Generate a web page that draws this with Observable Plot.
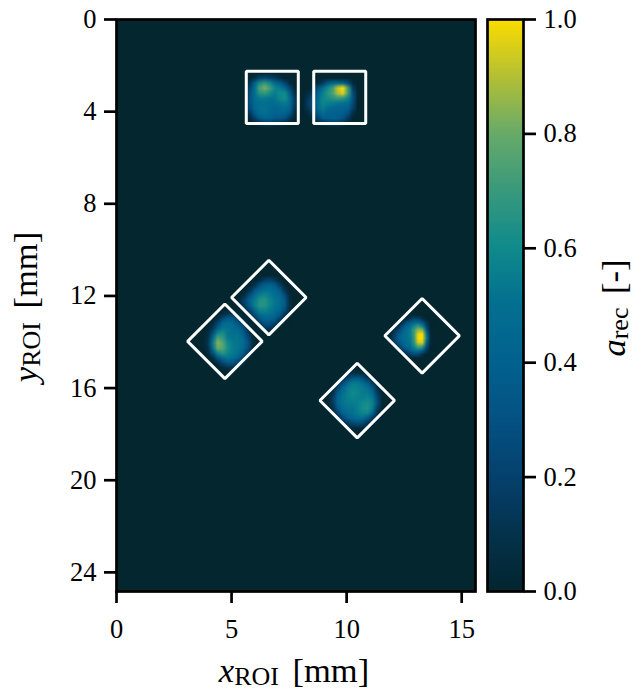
<!DOCTYPE html>
<html>
<head>
<meta charset="utf-8">
<script src="https://cdn.jsdelivr.net/npm/d3@7"></script>
<script src="https://cdn.jsdelivr.net/npm/@observablehq/plot@0.6"></script>
<style>
html,body{margin:0;padding:0;background:#fff}
#chart{display:flex;width:634px;height:691px}
svg{display:block;overflow:visible}
</style>
</head>
<body>
<div id="chart"></div>
<script>
const xTicks = [0, 5, 10, 15];
const yTicks = [0, 4, 8, 12, 16, 20, 24];
const barTicks = [0, 0.2, 0.4, 0.6, 0.8, 1];
const xMax = 15.6;
const yMax = 24.83;
const stopValues = [0, 0.1, 0.2, 0.3, 0.4, 0.5, 0.6, 0.7, 0.8, 0.9, 1];
const stopColors = ["#03262f","#04324c","#05416e","#045283","#02618f","#036f90","#0f8a8c","#38997d","#66aa6a","#b2bf36","#fadc00"];

// a_rec in percent
const gridTopLeft = [
[0,0,0,0,0,0,0,0,0,0,0,0],
[0,0,8,20,24,20,14,6,0,0,0,0],
[0,12,40,62,68,60,48,38,22,6,0,0],
[0,22,50,74,82,72,58,54,44,22,2,0],
[0,28,50,66,68,62,54,60,60,38,8,0],
[0,30,48,54,54,52,52,58,62,48,14,0],
[0,30,46,50,50,48,48,52,54,48,16,0],
[0,26,44,50,50,46,44,46,48,42,12,0],
[0,14,36,48,50,46,42,42,42,32,6,0],
[0,4,20,36,42,40,36,34,30,14,1,0],
[0,0,3,10,16,16,12,10,5,1,0,0],
[0,0,0,0,0,0,0,0,0,0,0,0]];
const gridTopRight = [
[0,0,0,0,0,0,0,0,0,0,0,0],
[0,0,0,0,0,0,0,0,0,0,0,0],
[0,0,0,2,16,34,44,46,42,26,5,0],
[0,0,4,28,48,60,72,92,100,72,18,0],
[0,6,14,40,56,66,74,90,96,72,28,0],
[0,12,24,46,58,62,66,70,68,58,30,0],
[0,16,28,48,58,56,54,52,50,48,26,0],
[0,12,24,46,54,48,44,42,42,40,20,0],
[0,4,14,36,48,42,40,40,38,30,8,0],
[0,0,3,20,36,38,40,38,30,16,1,0],
[0,0,0,3,12,16,18,16,10,3,0,0],
[0,0,0,0,0,0,0,0,0,0,0,0]];
const gridUpperDiamond = [
[0,0,0,0,0,0,0,0,0,0,0,0],
[0,0,0,0,0,6,18,22,14,3,0,0],
[0,0,0,0,10,28,38,42,36,18,3,0],
[0,0,0,10,32,44,50,50,46,36,12,0],
[0,0,8,28,46,56,58,54,50,46,26,3],
[0,5,22,42,54,64,66,58,52,48,34,5],
[0,3,18,38,56,66,66,58,52,48,36,6],
[0,0,6,22,44,58,58,54,50,44,26,3],
[0,0,0,7,26,44,50,48,44,32,10,0],
[0,0,0,0,8,28,40,40,32,14,2,0],
[0,0,0,0,0,10,24,24,14,3,0,0],
[0,0,0,0,0,1,6,6,2,0,0,0]];
const gridLeftDiamond = [
[0,0,0,0,3,9,9,3,0,0,0,0],
[0,0,0,5,22,34,32,16,3,0,0,0],
[0,0,3,22,44,48,44,32,14,2,0,0],
[0,0,12,38,52,52,48,44,30,8,0,0],
[0,5,28,58,62,52,50,50,40,16,2,0],
[0,8,44,74,68,54,52,52,46,26,4,0],
[0,12,54,84,76,60,54,52,48,32,6,0],
[0,8,48,80,76,62,54,52,46,28,4,0],
[0,3,28,58,66,58,54,50,38,14,1,0],
[0,0,7,30,46,52,48,40,22,3,0,0],
[0,0,0,7,22,34,32,18,5,0,0,0],
[0,0,0,0,3,8,6,2,0,0,0,0]];
const gridRightDiamond = [
[0,0,0,0,0,0,0,0,0,0,0,0],
[0,0,0,0,2,12,22,20,8,0,0,0],
[0,0,0,8,26,38,46,48,36,14,0,0],
[0,0,8,26,42,50,62,72,60,24,1,0],
[0,8,22,38,48,54,72,88,86,38,3,0],
[2,16,32,44,50,54,72,98,100,54,5,0],
[4,20,36,46,50,54,70,100,100,58,6,0],
[2,14,30,42,48,52,68,94,96,46,4,0],
[0,5,16,32,42,48,60,76,70,30,2,0],
[0,0,5,14,26,38,48,52,40,14,0,0],
[0,0,0,2,7,16,24,22,10,1,0,0],
[0,0,0,0,0,0,0,0,0,0,0,0]];
const gridLowerDiamond = [
[0,0,0,0,1,5,6,3,0,0,0,0],
[0,0,0,6,20,32,34,26,11,1,0,0],
[0,0,7,26,46,54,54,48,36,14,1,0],
[0,2,22,44,54,58,56,54,50,32,5,0],
[0,8,36,50,56,60,58,54,54,44,14,0],
[0,16,42,52,56,58,56,56,58,52,22,0],
[0,16,42,52,54,54,56,60,62,56,24,0],
[0,8,34,48,52,52,56,62,64,54,16,0],
[0,2,20,40,48,50,54,58,58,40,6,0],
[0,0,5,22,38,44,48,48,34,14,1,0],
[0,0,0,3,14,24,28,24,11,1,0,0],
[0,0,0,0,1,3,4,3,1,0,0,0]];

const patches = [
  {grid: gridTopLeft, x1: 5.46, x2: 8.07, y1: 2.21, y2: 4.82},
  {grid: gridTopRight, x1: 7.98, x2: 10.59, y1: 2.21, y2: 4.82},
  {grid: gridUpperDiamond, x1: 5.03, x2: 7.63, y1: 10.98, y2: 13.59},
  {grid: gridLeftDiamond, x1: 3.64, x2: 6.24, y1: 12.63, y2: 15.23},
  {grid: gridRightDiamond, x1: 11.80, x2: 13.89, y1: 12.72, y2: 14.80},
  {grid: gridLowerDiamond, x1: 9.07, x2: 11.67, y1: 15.23, y2: 17.84}
];

// region-of-interest outlines: centre x, centre y, half size (mm)
const squareX = [6.77, 9.7];
const squareY = [3.38, 3.38];
const squareHalf = [1.13, 1.13];
const diamondX = [6.62, 4.71, 13.28, 10.46];
const diamondY = [12.07, 13.97, 13.73, 16.54];
const diamondHalf = [1.62, 1.62, 1.62, 1.62];

const outline = [];
squareX.forEach((cx, k) => {
  const cy = squareY[k], h = squareHalf[k];
  [[0,-1],[1,-1],[1,1],[-1,1],[-1,-1],[0,-1]].forEach(([a,b]) =>
    outline.push({id: "s" + k, x: cx + a*h, y: cy + b*h}));
});
diamondX.forEach((cx, k) => {
  const cy = diamondY[k], h = diamondHalf[k];
  [[.5,-.5],[1,0],[0,1],[-1,0],[0,-1],[.5,-.5]].forEach(([a,b]) =>
    outline.push({id: "d" + k, x: cx + a*h, y: cy + b*h}));
});

const colorScale = {type: "linear", domain: stopValues, range: stopColors, clamp: true};
const FONT = "'Liberation Serif','Times New Roman',serif";
const SPINE = 2.7;

const main = Plot.plot({
  width: 481, height: 691,
  marginLeft: 116, marginRight: 6, marginTop: 19, marginBottom: 100,
  style: {fontFamily: FONT, background: "transparent"},
  x: {domain: [0, xMax]},
  y: {domain: [yMax, 0]},
  color: colorScale,
  marks: [
    Plot.frame({fill: stopColors[0], stroke: null}),
    ...patches.map(p => Plot.raster(p.grid.flat().map(v => v === 0 ? NaN : v / 100), {
      width: 12, height: 12, x1: p.x1, x2: p.x2, y1: p.y1, y2: p.y2, fill: d => d
    })),
    Plot.line(outline, {x: "x", y: "y", z: "id", stroke: "#fff", strokeWidth: 3, strokeLinejoin: "miter", curve: "linear"}),
    Plot.frame({stroke: "#000", strokeWidth: SPINE}),
    Plot.axisX({anchor: "bottom", ticks: xTicks, tickFormat: d => d, label: null, tickSize: 12, tickPadding: 16, strokeWidth: SPINE, fontSize: 26.5, fill: "#000", stroke: "#000"}),
    Plot.axisY({anchor: "left", ticks: yTicks, tickFormat: d => d, label: null, tickSize: 12, tickPadding: 8, strokeWidth: SPINE, fontSize: 26.5, fill: "#000", stroke: "#000"})
  ]
});

const ramp = d3.ticks(0, 1, 200).reverse();
const bar = Plot.plot({
  width: 153, height: 691,
  marginLeft: 6, marginRight: 111, marginTop: 19, marginBottom: 100,
  style: {fontFamily: FONT, background: "transparent"},
  x: {domain: [0, 1], axis: null},
  y: {domain: [0, 1]},
  color: colorScale,
  marks: [
    Plot.raster(ramp, {width: 1, height: ramp.length, x1: 0, x2: 1, y1: 1, y2: 0, fill: d => d}),
    Plot.frame({stroke: "#000", strokeWidth: SPINE}),
    Plot.axisY({anchor: "right", ticks: barTicks, tickFormat: d3.format(".1f"), label: null, tickSize: 12, tickPadding: 8, strokeWidth: SPINE, fontSize: 26.5, fill: "#000", stroke: "#000"})
  ]
});

function label(svg, transform, main, sub, tail) {
  const t = d3.select(svg).append("text")
    .attr("transform", transform)
    .attr("text-anchor", "middle")
    .attr("font-family", FONT)
    .attr("font-size", 34.5)
    .attr("fill", "#000");
  t.append("tspan").attr("font-style", "italic").text(main);
  t.append("tspan").attr("font-size", 26).attr("dy", 3).text(sub);
  t.append("tspan").attr("dy", -3).attr("dx", 5).text("\u00a0" + tail);
}
label(main, "translate(294,682)", "x", "ROI", "[mm]");
label(main, "translate(37,307) rotate(-90)", "y", "ROI", "[mm]");
label(bar, "translate(144,308) rotate(-90)", "a", "rec", "[-]");

document.getElementById("chart").append(main, bar);
</script>
</body>
</html>
